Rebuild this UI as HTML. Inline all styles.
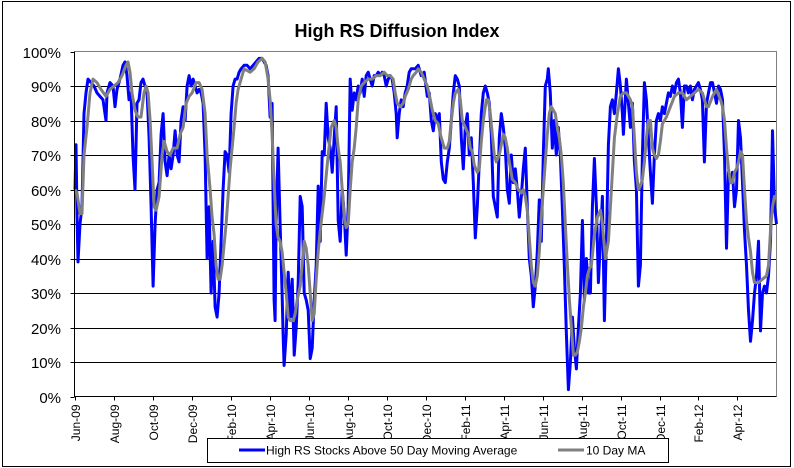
<!DOCTYPE html>
<html><head><meta charset="utf-8">
<style>
html,body{margin:0;padding:0;background:#fff;}
svg{display:block;font-family:"Liberation Sans",Arial,sans-serif;}
</style></head>
<body>
<svg id="chart" width="794" height="468" viewBox="0 0 794 468" xmlns="http://www.w3.org/2000/svg">
<rect x="2.5" y="1.5" width="788" height="465" fill="#fff" stroke="#000" stroke-width="1"/>
<text x="397" y="37" font-size="18" font-weight="bold" text-anchor="middle">High RS Diffusion Index</text>
<g id="grid"></g>
<g id="yaxis"></g>
<g id="xaxis"></g>
<g id="series"></g>
<g>
<rect x="207.5" y="438.5" width="461" height="24" fill="#fff" stroke="#000" stroke-width="1"/>
<line x1="239" y1="450" x2="265" y2="450" stroke="#0000ff" stroke-width="3"/>
<text x="266" y="454.5" font-size="12">High RS Stocks Above 50 Day Moving Average</text>
<line x1="558" y1="450" x2="584" y2="450" stroke="#808080" stroke-width="3"/>
<text x="586" y="454.5" font-size="12">10 Day MA</text>
</g>
</svg>
<script>
// Tick labels
const yTicks = [0,10,20,30,40,50,60,70,80,90,100];
const monthLabels = ["Jun-09","Aug-09","Oct-09","Dec-09","Feb-10","Apr-10","Jun-10","Aug-10","Oct-10","Dec-10","Feb-11","Apr-11","Jun-11","Aug-11","Oct-11","Dec-11","Feb-12","Apr-12"];
// Session index of each label (every ~39 sessions = 2 months)
const monthSessions = [75,114,153,192,231,270,309,348,387,426,465,504,543,582,621,660,698,737];
// Blue series: [session, percent]
const highRS = [[75,60],[76,73],[77,53],[78,39],[80,50],[82,55],[84,82],[86,88],[88,92],[91,91],[94,90],[97,88],[100,87],[103,86],[106,80],[107,88],[110,91],[113,90],[115,84],[117,89],[120,92],[123,96],[125,97],[127,93],[129,86],[131,88],[133,70],[135,60],[137,85],[139,86],[141,91],[143,92],[145,90],[147,88],[149,75],[151,55],[153,32],[155,50],[157,60],[159,62],[161,76],[163,82],[165,68],[167,64],[169,70],[171,66],[173,70],[175,77],[177,70],[179,68],[181,80],[183,84],[185,80],[187,90],[189,93],[191,90],[193,92],[195,90],[197,88],[199,89],[201,88],[203,85],[205,70],[207,40],[209,55],[211,30],[213,45],[215,26],[217,23],[219,30],[221,45],[223,60],[225,71],[227,70],[229,65],[231,82],[233,90],[235,92],[237,92],[239,94],[241,95],[244,96],[247,96],[250,95],[253,96],[256,97],[259,98],[262,98],[264,97],[266,96],[268,93],[270,81],[272,85],[274,28],[275,22],[276,50],[278,72],[280,50],[282,30],[283,18],[284,9],[286,18],[288,36],[290,23],[292,34],[294,12],[296,20],[298,33],[300,58],[302,55],[304,30],[306,28],[308,25],[310,11],[312,14],[314,28],[316,38],[318,61],[320,45],[322,71],[324,70],[326,85],[328,75],[330,72],[332,65],[334,75],[336,84],[338,51],[340,45],[342,60],[344,53],[346,41],[348,55],[350,92],[352,83],[354,88],[356,86],[358,90],[360,88],[362,92],[364,87],[366,93],[368,94],[370,92],[372,90],[374,93],[376,93],[378,94],[380,93],[382,94],[384,93],[386,90],[388,92],[390,93],[392,92],[394,88],[396,82],[397,75],[399,82],[401,86],[403,84],[405,88],[407,90],[409,94],[411,95],[413,95],[415,95],[418,96],[421,93],[424,94],[427,87],[429,88],[431,80],[433,77],[435,82],[437,80],[439,82],[441,68],[443,63],[445,62],[447,68],[449,72],[451,80],[453,88],[455,93],[457,92],[459,90],[461,75],[463,66],[465,78],[467,82],[469,70],[471,75],[473,62],[475,46],[477,55],[479,68],[481,82],[483,88],[485,90],[487,88],[489,85],[491,76],[493,58],[495,55],[497,52],[499,75],[501,82],[503,78],[505,72],[507,60],[509,56],[511,70],[513,62],[515,66],[517,60],[519,52],[521,58],[523,66],[525,72],[527,55],[529,40],[531,35],[533,26],[535,32],[537,42],[539,57],[541,45],[543,70],[545,90],[547,92],[548,95],[550,88],[552,72],[554,80],[556,70],[558,78],[560,70],[562,55],[564,38],[566,18],[568,2],[570,10],[572,23],[574,14],[576,8],[578,20],[580,30],[582,51],[584,28],[586,40],[588,30],[590,30],[592,55],[594,69],[596,55],[598,33],[600,45],[602,58],[604,22],[606,45],[608,73],[610,84],[612,86],[614,82],[616,88],[618,95],[620,90],[622,82],[623,76],[626,92],[628,85],[630,78],[632,85],[634,68],[636,60],[638,32],[640,38],[642,70],[644,91],[646,86],[648,75],[650,65],[652,56],[654,70],[656,80],[658,82],[660,80],[662,84],[664,82],[666,85],[668,88],[670,87],[672,90],[674,88],[676,91],[678,92],[680,88],[682,78],[684,90],[686,90],[688,88],[690,90],[692,86],[694,89],[696,90],[698,91],[700,89],[702,86],[704,68],[706,85],[708,88],[710,91],[712,91],[714,88],[716,85],[718,90],[720,89],[722,86],[724,70],[726,43],[728,65],[730,62],[732,65],[734,55],[736,60],[738,80],[740,75],[742,62],[744,48],[746,38],[748,25],[750,16],[752,22],[754,30],[756,35],[758,45],[760,19],[762,30],[764,32],[766,30],[768,35],[770,45],[772,77],[774,55],[776,50]];
// Gray series: 10 day MA [session, percent]
const ma10 = [[75,60],[77,59],[80,53],[82,53],[84,70],[87,78],[90,88],[93,92],[97,91],[101,89],[106,87],[110,89],[114,90],[118,91],[122,93],[126,96],[128,97],[130,94],[132,88],[135,83],[138,81],[141,81],[144,88],[146,90],[148,88],[150,80],[152,68],[154,55],[156,54],[159,58],[162,70],[164,74],[167,71],[170,70],[173,72],[177,72],[180,76],[183,78],[186,85],[189,87],[192,88],[196,91],[199,91],[202,89],[205,82],[207,70],[210,60],[212,52],[214,47],[216,38],[218,34],[220,34],[222,38],[224,44],[226,50],[228,58],[230,66],[232,72],[234,78],[236,85],[238,89],[241,92],[244,95],[250,94],[254,95],[258,97],[262,98],[265,97],[268,92],[270,86],[272,76],[274,62],[276,50],[278,46],[280,45],[282,42],[284,36],[286,30],[288,23],[290,22],[293,22],[295,24],[297,28],[300,32],[304,45],[306,43],[308,38],[310,30],[312,22],[314,24],[316,34],[318,42],[320,48],[322,53],[324,58],[326,64],[328,70],[331,78],[334,80],[336,78],[338,72],[340,68],[342,60],[344,52],[346,49],[348,50],[350,60],[352,68],[354,72],[356,78],[358,86],[361,90],[364,91],[368,92],[372,92],[376,93],[380,93],[384,94],[387,93],[390,93],[393,92],[395,88],[397,85],[400,84],[403,85],[405,87],[408,89],[411,92],[413,93],[416,94],[418,95],[421,94],[424,92],[427,90],[430,86],[432,83],[435,80],[438,79],[440,76],[442,74],[444,72],[447,72],[449,74],[451,80],[453,85],[455,88],[458,89],[460,86],[462,80],[465,78],[468,76],[470,72],[472,71],[474,67],[477,65],[479,66],[481,74],[483,80],[486,86],[488,86],[490,82],[492,76],[494,70],[496,68],[499,70],[501,73],[503,76],[505,75],[507,72],[509,68],[512,63],[515,62],[518,60],[521,59],[523,60],[525,58],[527,54],[529,46],[531,38],[533,33],[535,32],[537,35],[539,42],[541,52],[543,60],[545,68],[547,76],[549,82],[551,84],[553,83],[555,82],[557,78],[559,75],[561,70],[563,62],[565,50],[567,38],[569,28],[571,20],[573,12],[575,12],[577,13],[579,16],[581,20],[583,26],[585,30],[587,35],[589,37],[591,38],[594,47],[597,52],[600,54],[602,50],[605,40],[608,45],[610,55],[612,65],[614,75],[617,82],[620,87],[623,88],[626,88],[630,86],[632,84],[634,75],[636,65],[638,60],[640,61],[642,63],[644,68],[646,75],[648,80],[650,80],[652,72],[654,70],[656,69],[658,70],[660,74],[662,79],[666,81],[670,84],[674,87],[678,88],[682,88],[686,86],[690,87],[694,88],[698,89],[702,88],[706,84],[708,84],[712,87],[716,89],[720,86],[722,84],[724,80],[726,72],[728,66],[730,62],[732,62],[734,65],[736,66],[738,68],[740,71],[742,70],[744,60],[746,51],[748,46],[750,42],[752,36],[754,33],[758,33],[762,34],[766,35],[768,38],[770,48],[772,55],[774,58],[776,58]];

const NS = "http://www.w3.org/2000/svg";
const L = 74.5, R = 776.5, T = 51.5, B = 396.5;
const sMin = 75, sMax = 776;
function xs(s){ return L + 0.5 + (s - sMin) / (sMax - sMin) * (R - L - 0.5); }
function ys(v){ return B - v / 100 * (B - T); }
function mk(tag, attrs, parent){ const e = document.createElementNS(NS, tag); for (const k in attrs) e.setAttribute(k, attrs[k]); parent.appendChild(e); return e; }

const grid = document.getElementById('grid');
const yaxis = document.getElementById('yaxis');
const xaxis = document.getElementById('xaxis');
const series = document.getElementById('series');

yTicks.forEach(function(t){
  const y = Math.round(ys(t)) + 0.5;
  if (t > 0 && t < 100) {
    const g = mk('line', {x1: L, x2: R, y1: y, y2: y, stroke: '#000', 'stroke-width': 1}, grid);
    
    
  }
  const tk = mk('line', {x1: L - 4, x2: L, y1: y, y2: y, stroke: '#000', 'stroke-width': 1}, yaxis);
  
  
  const lb = mk('text', {x: 61, y: y + 5.5, 'font-size': 15, 'text-anchor': 'end'}, yaxis);
  lb.textContent = t + '%';
  
  
});
// plot border top/right gray
const tb = mk('polyline', {points: L + ',' + T + ' ' + R + ',' + T + ' ' + R + ',' + B, fill: 'none', stroke: '#808080', 'stroke-width': 1}, grid);



monthLabels.forEach(function(m, i){
  const x = Math.round(xs(monthSessions[i])) + 0.5;
  const tk = mk('line', {x1: x, x2: x, y1: B, y2: B + 4, stroke: '#000', 'stroke-width': 1}, xaxis);
  
  
  const lb = mk('text', {x: 0, y: 0, 'font-size': 12, 'text-anchor': 'end', transform: 'translate(' + (x + 4.5) + ',' + (B + 8) + ') rotate(-90)'}, xaxis);
  lb.textContent = m;
  
  
});

function path(data){ return data.map(function(p, i){ return (i ? 'L' : 'M') + xs(p[0]).toFixed(1) + ' ' + ys(p[1]).toFixed(1); }).join(' '); }
const bl = mk('path', {d: path(highRS), fill: 'none', stroke: '#0000ff', 'stroke-width': 3, 'stroke-linejoin': 'round'}, series);


const gl = mk('path', {d: path(ma10), fill: 'none', stroke: '#808080', 'stroke-width': 3, 'stroke-linejoin': 'round'}, series);



// axes lines
const ax = mk('polyline', {points: L + ',' + T + ' ' + L + ',' + B + ' ' + R + ',' + B, fill: 'none', stroke: '#000', 'stroke-width': 1}, series);


</script>
</body></html>
